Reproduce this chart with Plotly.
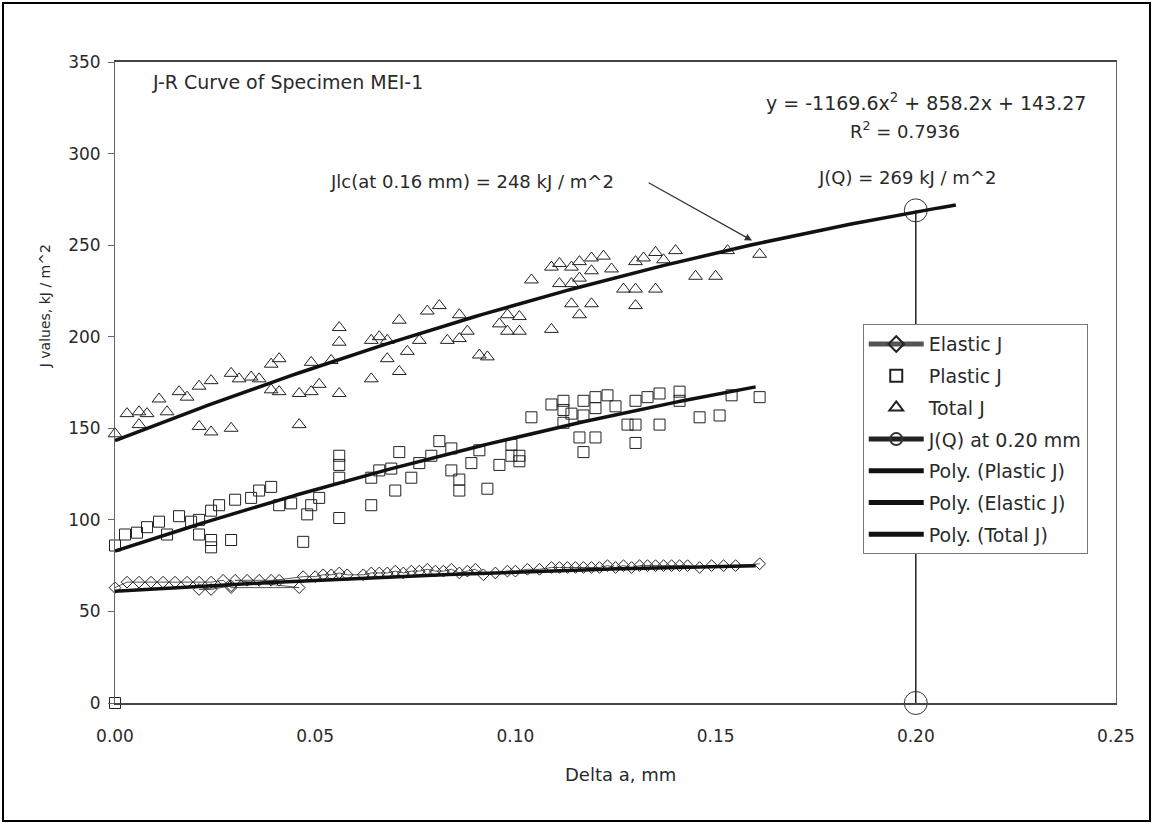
import numpy as np
import plotly.graph_objects as go

# ---------------- data ----------------
elastic_x = [0.000, 0.003, 0.006, 0.009, 0.012, 0.015, 0.018, 0.021, 0.024, 0.027,
             0.029, 0.046, 0.030, 0.033, 0.036, 0.039, 0.041, 0.021, 0.024, 0.029,
             0.047, 0.050, 0.052, 0.054, 0.056, 0.058, 0.062, 0.064, 0.066, 0.068,
             0.070, 0.072, 0.074, 0.076, 0.078, 0.080, 0.082, 0.084, 0.086, 0.088,
             0.090, 0.092, 0.095, 0.098, 0.100, 0.103, 0.106, 0.109, 0.111, 0.113,
             0.115, 0.117, 0.119, 0.121, 0.123, 0.125, 0.127, 0.129, 0.131, 0.133,
             0.135, 0.137, 0.139, 0.141, 0.143, 0.146, 0.149, 0.152, 0.155, 0.161]
elastic_j = [63, 66, 66, 66, 66, 66, 66, 66, 66, 67,
             63, 63, 67, 67, 67, 67, 67, 62, 62, 64,
             69, 69, 70, 70, 71, 70, 70, 71, 71, 71,
             72, 71, 72, 72, 73, 72, 72, 73, 71, 72,
             73, 70, 71, 72, 72, 73, 73, 74, 74, 74,
             74, 74, 74, 74, 75, 74, 75, 74, 75, 75,
             75, 75, 75, 75, 75, 74, 75, 75, 75, 76]

plastic_x = [0.000, 0.000, 0.0025, 0.0055, 0.008, 0.011, 0.013, 0.016, 0.019, 0.021,
             0.021, 0.024, 0.024, 0.024, 0.029, 0.026, 0.030, 0.034, 0.036, 0.039,
             0.041, 0.044, 0.047, 0.048, 0.049, 0.051, 0.056, 0.056, 0.056, 0.056,
             0.064, 0.064, 0.066, 0.069, 0.070, 0.071, 0.074, 0.076, 0.079, 0.081,
             0.084, 0.084, 0.086, 0.086, 0.089, 0.091, 0.093, 0.096, 0.099, 0.099,
             0.101, 0.101, 0.104, 0.109, 0.112, 0.112, 0.112, 0.114, 0.117, 0.117,
             0.120, 0.120, 0.123, 0.125, 0.116, 0.120, 0.117, 0.130, 0.130, 0.130,
             0.128, 0.133, 0.136, 0.136, 0.141, 0.141, 0.146, 0.151, 0.154, 0.161]
plastic_j = [0, 86, 92, 93, 96, 99, 92, 102, 99, 100,
             92, 105, 89, 85, 89, 108, 111, 112, 116, 118,
             108, 109, 88, 103, 108, 112, 123, 130, 135, 101,
             123, 108, 127, 128, 116, 137, 123, 131, 135, 143,
             139, 127, 122, 116, 131, 138, 117, 130, 135, 141,
             135, 132, 156, 163, 165, 160, 153, 158, 165, 157,
             167, 161, 168, 162, 145, 145, 137, 165, 142, 152,
             152, 167, 169, 152, 170, 165, 156, 157, 168, 167]

total_x = [0.000, 0.003, 0.006, 0.006, 0.008, 0.011, 0.013, 0.016, 0.018, 0.021,
           0.024, 0.021, 0.024, 0.029, 0.029, 0.031, 0.034, 0.036, 0.039, 0.041,
           0.039, 0.041, 0.046, 0.046, 0.049, 0.049, 0.051, 0.054, 0.056, 0.056,
           0.056, 0.064, 0.064, 0.066, 0.068, 0.068, 0.071, 0.071, 0.073, 0.076,
           0.078, 0.081, 0.083, 0.086, 0.086, 0.088, 0.091, 0.093, 0.096, 0.098,
           0.101, 0.101, 0.098, 0.104, 0.109, 0.109, 0.111, 0.114, 0.116, 0.119,
           0.122, 0.111, 0.114, 0.116, 0.119, 0.114, 0.116, 0.119, 0.124, 0.127,
           0.130, 0.130, 0.135, 0.130, 0.132, 0.135, 0.137, 0.140, 0.145, 0.150,
           0.153, 0.161]
total_j = [147, 158, 159, 152, 158, 166, 159, 170, 167, 173,
           176, 151, 148, 150, 180, 177, 178, 177, 185, 188,
           171, 170, 152, 169, 186, 170, 174, 187, 205, 197,
           169, 198, 177, 200, 198, 188, 209, 181, 192, 198,
           214, 217, 198, 199, 212, 203, 190, 189, 207, 212,
           211, 203, 203, 231, 204, 238, 240, 238, 241, 243,
           244, 229, 229, 232, 236, 218, 212, 218, 237, 226,
           226, 217, 226, 241, 243, 246, 242, 247, 233, 233,
           247, 245]

jq_x = [0.20, 0.20]
jq_j = [0, 269]

# trendline coefficients (highest power first)
poly_total = [-1169.6, 858.2, 143.27]
poly_plastic = [-1000.0, 720.0, 83.0]
poly_elastic = [-300.0, 135.0, 61.0]
total_fit_end = 0.21
fit_end = 0.16

FONT = "DejaVu Sans"
TXT = "#2a2a2a"

fig = go.Figure()

fig.add_trace(go.Scatter(
    x=elastic_x, y=elastic_j, mode="lines+markers", name="Elastic J",
    legendgroup="a", cliponaxis=False,
    line=dict(color="#555555", width=1),
    marker=dict(symbol="diamond-open", size=9, color="#222222", line=dict(width=1))))
fig.add_trace(go.Scatter(
    x=plastic_x, y=plastic_j, mode="markers", name="Plastic J",
    legendgroup="b", cliponaxis=False,
    marker=dict(symbol="square-open", size=11, color="#222222", line=dict(width=1))))
fig.add_trace(go.Scatter(
    x=total_x, y=total_j, mode="markers", name="Total J",
    legendgroup="c", cliponaxis=False,
    marker=dict(symbol="triangle-up-open", size=12, color="#222222", line=dict(width=1))))
fig.add_trace(go.Scatter(
    x=jq_x, y=jq_j, mode="lines+markers", name="J(Q) at 0.20 mm",
    legendgroup="d", cliponaxis=False,
    line=dict(color="#222222", width=1.5),
    marker=dict(symbol="circle-open", size=23, color="#333333", line=dict(width=1))))

xt = np.linspace(0, total_fit_end, 120)
xf = np.linspace(0, fit_end, 120)
fig.add_trace(go.Scatter(x=xf, y=np.polyval(poly_plastic, xf), mode="lines",
                         name="Poly. (Plastic J)", legendgroup="e",
                         line=dict(color="#111111", width=3.5)))
fig.add_trace(go.Scatter(x=xf, y=np.polyval(poly_elastic, xf), mode="lines",
                         name="Poly. (Elastic J)", legendgroup="f",
                         line=dict(color="#111111", width=3.5)))
fig.add_trace(go.Scatter(x=xt, y=np.polyval(poly_total, xt), mode="lines",
                         name="Poly. (Total J)", legendgroup="g",
                         line=dict(color="#111111", width=3.5)))

fig.update_layout(
    width=1154, height=824,
    margin=dict(l=115, r=38, t=62, b=121),
    paper_bgcolor="white", plot_bgcolor="white",
    font=dict(family=FONT, size=17, color=TXT),
    showlegend=True,
    legend=dict(x=0.747, y=0.591, xanchor="left", yanchor="top",
                bgcolor="white", bordercolor="#777777", borderwidth=1,
                font=dict(family=FONT, size=19, color=TXT),
                tracegroupgap=4, itemsizing="constant", itemwidth=55),
)
fig.update_xaxes(range=[0, 0.25], tickvals=[0, 0.05, 0.10, 0.15, 0.20, 0.25],
                 ticktext=["0.00", "0.05", "0.10", "0.15", "0.20", "0.25"],
                 showgrid=False, zeroline=False, showline=True, linecolor="#444444",
                 linewidth=1.5, mirror=True, ticks="", ticklabelstandoff=17,
                 tickfont=dict(family=FONT, size=17, color=TXT))
fig.update_yaxes(range=[0, 350], tickvals=[0, 50, 100, 150, 200, 250, 300, 350],
                 showgrid=False, zeroline=False, showline=True, linecolor="#666666",
                 linewidth=1, mirror=True, ticks="outside", ticklen=6, tickcolor="#666666",
                 ticklabelstandoff=4,
                 tickfont=dict(family=FONT, size=17, color=TXT))

ann = [
    dict(text="J-R Curve of Specimen MEI-1", x=0.0087, y=339, xref="x", yref="y",
         xanchor="left", yanchor="middle", showarrow=False, font=dict(size=19)),
    dict(text="Jlc(at 0.16 mm) = 248 kJ / m^2", x=0.0892, y=284.5, xref="x", yref="y",
         xanchor="center", yanchor="middle", showarrow=False, font=dict(size=18)),
    dict(text="y = -1169.6x<sup>2</sup> + 858.2x + 143.27", x=0.2025, y=328, xref="x", yref="y",
         xanchor="center", yanchor="middle", showarrow=False, font=dict(size=19)),
    dict(text="R<sup>2</sup> = 0.7936", x=0.1973, y=313, xref="x", yref="y",
         xanchor="center", yanchor="middle", showarrow=False, font=dict(size=18)),
    dict(text="J(Q) = 269 kJ / m^2", x=0.1978, y=287, xref="x", yref="y",
         xanchor="center", yanchor="middle", showarrow=False, font=dict(size=18)),
    dict(text="", x=0.1591, y=252.5, ax=0.1329, ay=284.5, xref="x", yref="y",
         axref="x", ayref="y", showarrow=True, arrowhead=2, arrowsize=1.2,
         arrowwidth=1.2, arrowcolor="#333333"),
    dict(text="Delta a, mm", x=0.5045, y=-0.1123, xref="paper", yref="paper",
         xanchor="center", yanchor="middle", showarrow=False,
         font=dict(family=FONT, size=18)),
    dict(text="J values, kJ / m^2", x=-0.0699, y=0.619, xref="paper", yref="paper",
         xanchor="center", yanchor="middle", showarrow=False, textangle=-90,
         font=dict(family=FONT, size=14)),
]
fig.update_layout(annotations=ann)

# outer frame around the whole picture
fig.add_shape(type="rect", xref="paper", yref="paper",
              x0=(3 - 115) / 1001, x1=(1150 - 115) / 1001,
              y0=(703 - 821) / 641, y1=(703 - 3) / 641,
              line=dict(color="black", width=2), fillcolor="rgba(0,0,0,0)", layer="above")

fig.write_html("out.html", config={"displayModeBar": False},
               post_script="document.body.style.margin='0';document.body.style.overflow='hidden';")
